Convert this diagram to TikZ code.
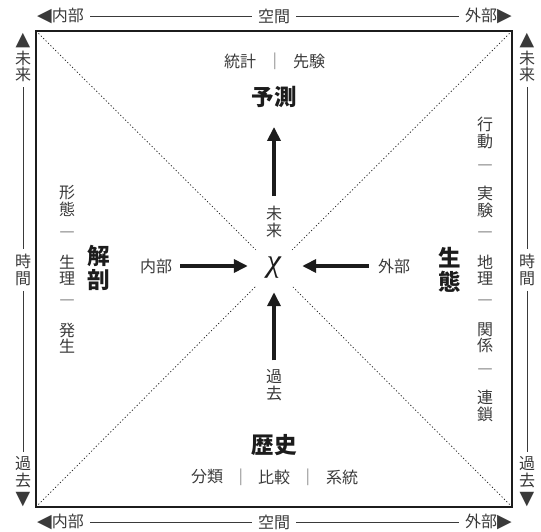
\documentclass[tikz,border=0pt]{standalone}
\usepackage{fontspec}
\setmainfont{Noto Sans CJK JP}
\newfontfamily\symfont{DejaVu Sans}
\newfontfamily\chifont{Liberation Serif}
\usetikzlibrary{arrows.meta}
\definecolor{txt}{HTML}{3A3A3A}
\definecolor{ink}{HTML}{1C1C1C}
\definecolor{sep}{HTML}{8A8A8A}
\newcommand{\tri}[1]{{\fontsize{19pt}{16pt}\selectfont\symfont #1}}
\newcommand{\dsh}{―}
\begin{document}
\begin{tikzpicture}[x=1pt,y=-1pt,
  lab/.style={font=\fontsize{16pt}{16.5pt}\selectfont, text=txt, inner sep=0pt, align=center},
  sub/.style={font=\fontsize{16pt}{16.5pt}\selectfont, text=txt, inner sep=0pt, align=center},
  bar/.style={font=\fontsize{15pt}{16pt}\selectfont, text=sep, inner sep=0pt},
  head/.style={font=\fontsize{22.5pt}{23.5pt}\selectfont\bfseries, text=ink, inner sep=0pt, align=center},
  rule/.style={draw=txt, line width=0.7pt},
  bigarrow/.style={draw=ink, line width=3.6pt, -{Triangle[length=14pt,width=13pt]}},
  diag/.style={draw=ink, line width=0.7pt, dash pattern=on 1.2pt off 2.2pt},
  frame/.style={draw=ink, line width=1.8pt},
]
\useasboundingbox (0,0) rectangle (541,532);

% frame and corners
\coordinate (c1) at (36,31);
\coordinate (c2) at (512,31);
\coordinate (c3) at (512,507);
\coordinate (c4) at (36,507);
\draw[frame] (c1) rectangle (c3);

% centre
\node[font=\fontsize{32pt}{32pt}\selectfont\chifont\itshape, text=ink, inner sep=0pt, minimum width=36pt, minimum height=36pt] (chi) at (274,268) {χ};

% diagonals
\draw[diag] (c1) -- (chi.north west);
\draw[diag] (c2) -- (chi.north east);
\draw[diag] (c3) -- (chi.south east);
\draw[diag] (c4) -- (chi.south west);

% top outer row
\node[lab, anchor=west] (tl) at (37,16) {\tri{◀}内部};
\node[lab] (tc) at (274,16) {空間};
\node[lab, anchor=east] (tr) at (512,16) {外部\tri{▶}};
\draw[rule, shorten <=6pt, shorten >=6pt] (tl) -- (tc);
\draw[rule, shorten <=6pt, shorten >=6pt] (tc) -- (tr);

% bottom outer row
\node[lab, anchor=west] (bl) at (37,522) {\tri{◀}内部};
\node[lab] (bc) at (274,522) {空間};
\node[lab, anchor=east] (br) at (512,522) {外部\tri{▶}};
\draw[rule, shorten <=6pt, shorten >=6pt] (bl) -- (bc);
\draw[rule, shorten <=6pt, shorten >=6pt] (bc) -- (br);

% left outer column
\node[lab] (lt) at (23,58) {\tri{▲}\\[2pt]未\\来};
\node[lab] (lc) at (23,270) {時\\間};
\node[lab] (lb) at (23,482) {過\\去\\[2pt]\tri{▼}};
\draw[rule, shorten <=5pt, shorten >=5pt] (lt) -- (lc);
\draw[rule, shorten <=5pt, shorten >=5pt] (lc) -- (lb);

% right outer column
\node[lab] (rt) at (527,58) {\tri{▲}\\[2pt]未\\来};
\node[lab] (rc) at (527,270) {時\\間};
\node[lab] (rb) at (527,482) {過\\去\\[2pt]\tri{▼}};
\draw[rule, shorten <=5pt, shorten >=5pt] (rt) -- (rc);
\draw[rule, shorten <=5pt, shorten >=5pt] (rc) -- (rb);

% top inner
\node[sub] (toukei) at (240,61) {統計};
\node[bar] (tbar) at (275,61) {|};
\node[sub] (senken) at (309,61) {先験};
\node[head] (yosoku) at (274,97) {予測};

% bottom inner
\node[head] (rekishi) at (274,445) {歴史};
\node[sub] (bunrui) at (207,477) {分類};
\node[bar] (bbar1) at (241,477) {|};
\node[sub] (hikaku) at (274,477) {比較};
\node[bar] (bbar2) at (308,477) {|};
\node[sub] (keitou) at (342,477) {系統};

% left inner
\node[head] (kaibo) at (99,268) {解\\剖};
\node[sub] (k1) at (67,201) {形\\態};
\node[sub] (k2) at (67,235) {\dsh};
\node[sub] (k3) at (67,270) {生\\理};
\node[sub] (k4) at (67,303) {\dsh};
\node[sub] (k5) at (67,338) {発\\生};

% right inner
\node[head] (seitai) at (450,270) {生\\態};
\node[sub] (s1) at (485,133) {行\\動};
\node[sub] (s2) at (485,168) {\dsh};
\node[sub] (s3) at (485,202) {実\\験};
\node[sub] (s4) at (485,235) {\dsh};
\node[sub] (s5) at (485,270) {地\\理};
\node[sub] (s6) at (485,303) {\dsh};
\node[sub] (s7) at (485,338) {関\\係};
\node[sub] (s8) at (485,372) {\dsh};
\node[sub] (s9) at (485,406) {連\\鎖};

% arrows to chi
\node[lab] (inL) at (156,266) {内部};
\node[lab] (outR) at (394,266) {外部};
\node[lab] (fut) at (274,222) {未\\来};
\node[lab] (past) at (274,385) {過\\去};
\draw[bigarrow, shorten <=8pt, shorten >=8pt] (inL.east) -- (inL.east -| chi.west);
\draw[bigarrow, shorten <=9pt, shorten >=10pt] (outR.west) -- (outR.west -| chi.east);
\draw[bigarrow, shorten <=10pt, shorten >=19pt] (fut.north) -- (fut.north |- yosoku.south);
\draw[bigarrow, shorten <=9pt, shorten >=6pt] (past.north) -- (past.north |- chi.south);
\end{tikzpicture}
\end{document}
